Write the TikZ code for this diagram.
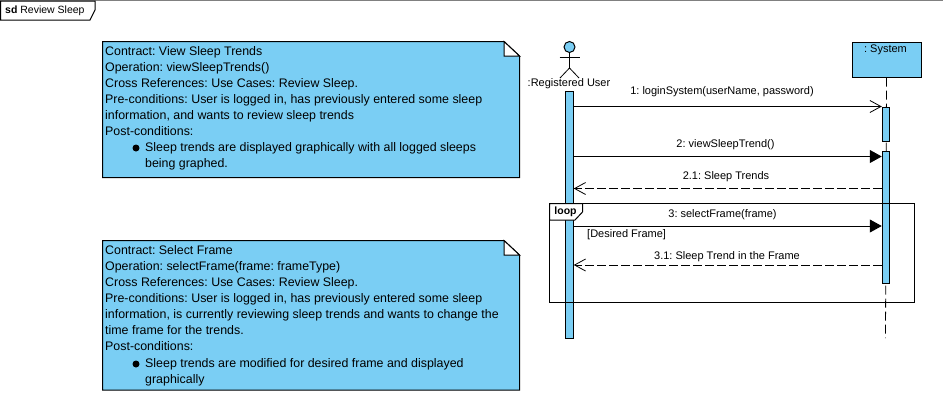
\documentclass[tikz,border=0pt]{standalone}
\usepackage{fontspec}
\setmainfont{Liberation Sans}
\usetikzlibrary{arrows.meta,positioning,calc}
\definecolor{umlblue}{HTML}{7ACEF4}
\tikzset{
  umltext/.style={inner sep=0pt, font=\fontsize{11}{16}\selectfont\frenchspacing},
  notetext/.style={inner sep=0pt, font=\fontsize{12.4}{16}\selectfont\frenchspacing, anchor=north west, align=left},
  bar/.style={draw, fill=umlblue, line width=1pt, minimum width=7.5pt, inner sep=0pt, anchor=north},
  notebox/.style={draw, fill=umlblue, line width=1pt},
  dot/.style={circle, fill=black, inner sep=0pt, minimum size=7pt},
  syncmsg/.style={line width=1pt, -{Triangle[length=12pt,width=13pt]}},
  openmsg/.style={line width=.8pt, -{Straight Barb[length=11pt,width=12pt]}},
  backmsg/.style={line width=.8pt, dash pattern=on 9pt off 3pt, -{Straight Barb[length=11pt,width=12pt]}}
}
\begin{document}
\begin{tikzpicture}[x=1pt,y=-1pt]
\useasboundingbox (0,0) rectangle (943,405);
\draw[gray, line width=1pt] (0,.5) -- (943,.5);
% frame tab
\draw[line width=1pt] (.5,1) -- (95,1) -- (95,10) -- (90,20) -- (.5,20) -- cycle;
\node[umltext, anchor=west, font=\fontsize{10.5}{16}\selectfont] (sdlabel) at (5,11) {\textbf{sd} Review Sleep};
% first note
\draw[notebox] (102.5,41.5) -- (504,41.5) -- (519.5,56) -- (519.5,177.5) -- (102.5,177.5) -- cycle;
\draw[line width=1pt, fill=white] (504,41.5) -- (519.5,56) -- (504,56) -- cycle;
\node[notetext] (notetrends) at (105,46) {Contract: View Sleep Trends\\
Operation: viewSleepTrends()\\
Cross References: Use Cases: Review Sleep.\\
Pre-conditions: User is logged in, has previously entered some sleep\\
information, and wants to review sleep trends\\
Post-conditions:};
\node[dot] (dottrends) at (136,148) {};
\node[notetext] (itemtrends) at (145,142.5) {Sleep trends are displayed graphically with all logged sleeps\\
being graphed.};
% second note
\draw[notebox] (102.5,240.5) -- (504,240.5) -- (519.5,255) -- (519.5,390) -- (102.5,390) -- cycle;
\draw[line width=1pt, fill=white] (504,240.5) -- (519.5,255) -- (504,255) -- cycle;
\node[notetext] (noteframe) at (105,245.5) {Contract: Select Frame\\
Operation: selectFrame(frame: frameType)\\
Cross References: Use Cases: Review Sleep.\\
Pre-conditions: User is logged in, has previously entered some sleep\\
information, is currently reviewing sleep trends and wants to change the\\
time frame for the trends.\\
Post-conditions:};
\node[dot] (dotframe) at (136,364) {};
\node[notetext] (itemframe) at (145,358.5) {Sleep trends are modified for desired frame and displayed\\
graphically};
% actor
\node[circle, draw, fill=umlblue, line width=1pt, minimum size=11pt, inner sep=0pt] (head) at (569.5,47) {};
\coordinate (hip) at (569.5,68);
\draw[line width=.8pt] (head.south) -- (hip);
\draw[line width=.8pt] (559.5,57) -- (579.5,57);
\draw[line width=.8pt] (560,78) -- (hip) -- (579,78);
\node[umltext] (userlabel) at (569,84) {:Registered User};
% lifelines and bars
\node[draw, fill=umlblue, line width=1pt, minimum width=69pt, minimum height=35pt, anchor=north west] (system) at (851.5,41.5) {};
\node[umltext] (systemlabel) at (885.5,49.5) {: System};
\coordinate (sysend) at (885.5,338);
\draw[line width=.8pt, dash pattern=on 9pt off 4pt] (system.south) -- (sysend);
\node[bar, minimum height=247pt] (userbar) at (569.5,91) {};
\node[bar, minimum height=34pt] (sysbarone) at (886,106.5) {};
\node[bar, minimum height=132pt] (sysbartwo) at (886,150.5) {};
% messages
\coordinate (msgone) at (0,106.5);
\coordinate (msgtwo) at (0,156.5);
\coordinate (msgback) at (0,188.5);
\coordinate (msgthree) at (0,226);
\coordinate (msgloop) at (0,265);
\draw[openmsg] (userbar.east |- msgone) -- (sysbarone.west |- msgone);
\draw[syncmsg] (userbar.east |- msgtwo) -- (sysbartwo.west |- msgtwo);
\draw[backmsg] (sysbartwo.west |- msgback) -- (userbar.east |- msgback);
\draw[syncmsg] (userbar.east |- msgthree) -- (sysbartwo.west |- msgthree);
\draw[backmsg] (sysbartwo.west |- msgloop) -- (userbar.east |- msgloop);
\node[umltext] (labelone) at (722,92) {1: loginSystem(userName, password)};
\node[umltext] (labeltwo) at (725.5,145) {2: viewSleepTrend()};
\node[umltext] (labelback) at (726,177) {2.1: Sleep Trends};
\node[umltext] (labelthree) at (722.5,215) {3: selectFrame(frame)};
\node[umltext, anchor=west] (guard) at (587,235) {[Desired Frame]};
\node[umltext] (labelloop) at (727,257) {3.1: Sleep Trend in the Frame};
% loop frame
\draw[line width=1pt, fill=white] (549.5,203.5) -- (582.5,203.5) -- (582.5,212) -- (575,220) -- (549.5,220) -- cycle;
\draw[line width=1pt] (549.5,203.5) rectangle (914.5,302.5);
\node[umltext, font=\fontsize{10.5}{16}\selectfont] (looplabel) at (565.5,212) {\textbf{loop}};
\end{tikzpicture}
\end{document}
